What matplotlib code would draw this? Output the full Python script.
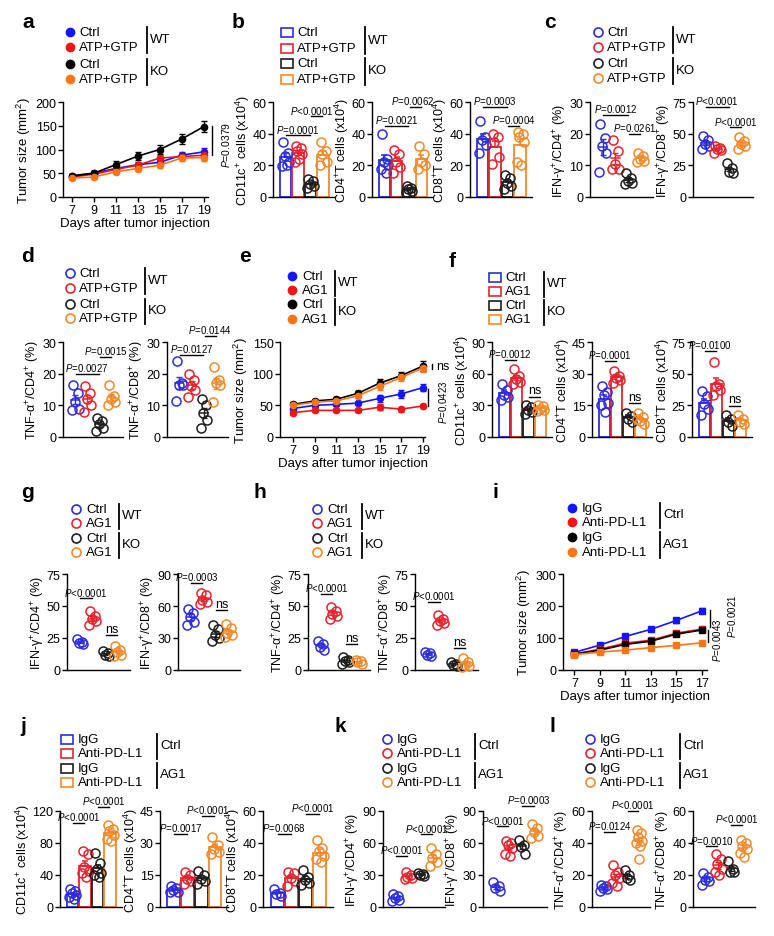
import numpy as np
import matplotlib
matplotlib.use('Agg')
import matplotlib.pyplot as plt
from matplotlib.patches import Rectangle

plt.rcParams['font.family'] = ['Liberation Sans', 'DejaVu Sans']
plt.rcParams['mathtext.fontset'] = 'custom'
plt.rcParams['mathtext.rm'] = 'Liberation Sans'
plt.rcParams['mathtext.it'] = 'Liberation Sans:italic'
plt.rcParams['mathtext.bf'] = 'Liberation Sans:bold'

# ---------------- data ----------------
days = [7, 9, 11, 13, 15, 17, 19]
# a: tumour growth, WT / KO, Ctrl vs ATP+GTP
a_wt_ctrl = [45, 50, 60, 68, 73, 88, 95]
a_wt_ctrl_err = [4, 5, 5, 6, 7, 6, 8]
a_wt_atp = [42, 48, 58, 67, 82, 85, 88]
a_wt_atp_err = [4, 4, 5, 5, 7, 6, 7]
a_ko_ctrl = [44, 50, 68, 86, 100, 122, 148]
a_ko_ctrl_err = [4, 5, 8, 9, 10, 11, 12]
a_ko_atp = [40, 42, 53, 60, 67, 82, 83]
a_ko_atp_err = [3, 4, 5, 6, 6, 7, 8]

# b: cell counts (x10^4)
b_cd11c = [[35, 28, 26, 22, 19.5, 20], [32, 31, 29, 27, 22, 24], [11.5, 10, 8, 7, 6], [35, 29, 27, 22, 20]]
b_cd4 = [[40, 24, 22, 20, 18, 15], [30, 27, 22, 19, 15], [7, 6, 5, 4, 3], [32, 27, 22, 20, 18]]
b_cd8 = [[48, 38, 36, 33, 28], [40, 38, 35, 25, 21], [14, 12, 9, 7, 5], [41, 40, 38, 35, 22, 20]]

# c: IFN-gamma+ (%)
c_cd4 = [[23, 18.5, 16, 14, 8], [18, 14.5, 10.5, 9, 9], [7.5, 6, 5, 4.5, 4], [14, 13, 12, 11.5, 11]]
c_cd8 = [[48, 45, 42, 40, 38], [40, 39, 38, 37, 35], [27, 23, 20, 19], [47, 44, 42, 40, 38]]

# d: TNF-alpha+ (%)
d_cd4 = [[16.5, 14, 11, 9, 8.5], [16, 14, 12, 10, 8], [6, 5, 4, 3, 2], [16.5, 13, 12, 11, 10]]
d_cd8 = [[24, 17, 16.5, 16.5, 11.5], [20, 18, 16, 15, 12.5], [12, 10, 7.5, 5.5, 3], [22, 18, 17, 16.5, 11]]

# e: tumour growth, WT / KO, Ctrl vs AG1
e_wt_ctrl = [45, 50, 51.5, 53.5, 61, 68, 78]
e_wt_ctrl_err = [3, 3, 3, 3, 5, 6, 6]
e_wt_ag1 = [38.5, 42, 42, 42, 47, 44, 49]
e_wt_ag1_err = [3, 3, 3, 3, 5, 4, 3]
e_ko_ctrl = [51.5, 57, 59.5, 69, 85, 97, 112]
e_ko_ctrl_err = [3, 3, 3, 4, 6, 6, 8]
e_ko_ag1 = [50, 55, 57, 65, 80, 94, 109]
e_ko_ag1_err = [3, 3, 3, 4, 5, 6, 7]

# f: cell counts (x10^4)
f_cd11c = [[50, 45, 40, 38, 35], [64, 58, 55, 52, 50], [30, 28, 26, 24, 22], [30, 29, 27, 26, 25]]
f_cd4 = [[24, 21.5, 20, 16, 15, 12], [31.5, 29, 28, 27, 25.5], [11.5, 10, 8.5, 7], [11.5, 9.3, 7.8, 6.3, 8.6]]
f_cd8 = [[36, 32, 26, 22, 17], [59, 42, 40, 37, 33], [17, 14, 12, 9], [17, 14, 12, 10]]

# g: IFN-gamma+ (%), h: TNF-alpha+ (%)
g_cd4 = [[24, 22, 21, 20], [46, 42, 40, 38, 35], [15, 13, 12, 11], [19, 16, 14, 12, 11]]
g_cd8 = [[57, 53, 50, 45, 42], [72, 70, 66, 64, 62], [42, 38, 33, 30, 27], [43, 39, 35, 33, 31]]
h_cd4 = [[23, 20, 18, 16], [49, 46, 44, 42, 40], [10, 8, 7, 6, 5], [8, 7, 6, 5]]
h_cd8 = [[14, 13, 12, 11], [43, 40, 38, 37, 35], [6, 5, 4, 3], [9, 6, 4, 3, 2]]

# i: tumour growth, IgG vs anti-PD-L1
i_days = [7, 9, 11, 13, 15, 17]
i_ctrl_igg = [55, 78, 105, 127, 155, 185]
i_ctrl_igg_err = [4, 5, 5, 6, 7, 8]
i_ctrl_pd = [50, 65, 84, 93, 115, 128]
i_ctrl_pd_err = [3, 4, 4, 5, 5, 6]
i_ag1_igg = [50, 62, 80, 90, 112, 125]
i_ag1_igg_err = [3, 4, 4, 5, 5, 6]
i_ag1_pd = [48, 56, 62, 70, 77, 85]
i_ag1_pd_err = [3, 3, 3, 4, 4, 5]

# j: cell counts, k: IFN-gamma+, l: TNF-alpha+
j_cd11c = [[22, 20, 17, 15, 12, 10], [70, 66, 50, 45, 42, 38], [68, 55, 47, 42, 40, 38], [102, 98, 95, 90, 85, 83]]
j_cd4 = [[10, 9, 8, 7, 7], [16.5, 15, 13, 12, 11], [17, 15, 13, 12, 11], [33, 29, 27, 26, 25]]
j_cd8 = [[11, 9, 8, 7], [22, 21, 18, 16, 13], [23, 19, 17, 15, 14], [42, 37, 35, 32, 30, 28]]
k_cd4 = [[12, 10, 8, 7, 6], [33, 30, 28, 27, 26], [32, 31, 30, 29], [55, 50, 46, 42, 38]]
k_cd8 = [[23, 20, 18, 15], [62, 60, 58, 55, 50, 48], [63, 58, 56, 50], [78, 74, 70, 67, 65]]
l_cd4 = [[14, 13, 12, 11, 10], [26, 22, 20, 18, 15, 13], [23, 20, 18, 17], [48, 46, 44, 41, 40, 38, 30]]
l_cd8 = [[21, 19, 17, 16, 14], [33, 30, 27, 24, 22, 20], [29, 24, 22, 22], [42, 40, 38, 36, 34, 31]]

atp_labels = ['Ctrl', 'ATP+GTP', 'Ctrl', 'ATP+GTP']
ag1_labels = ['Ctrl', 'AG1', 'Ctrl', 'AG1']
pd_labels = ['IgG', 'Anti-PD-L1', 'IgG', 'Anti-PD-L1']

LINE_COLS = ['#1414ff', '#f01414', '#000000', '#ff7514']
RING_COLS = ['#2c2ce0', '#e8232d', '#1e1e1e', '#f5892a']
JIT = [-0.2, 0.2, -0.05, 0.28, -0.28, 0.1, 0.0]

W, H = 774, 937
fig = plt.figure(figsize=(W / 100, H / 100), dpi=100)
ov = fig.add_axes([0, 0, 1, 1])
ov.set_xlim(0, W)
ov.set_ylim(H, 0)
ov.axis('off')


def new_ax(x0, x1, ytop, ybot):
    ax = fig.add_axes([x0 / W, 1 - ybot / H, (x1 - x0) / W, (ybot - ytop) / H])
    ax.patch.set_visible(False)
    for s in ['top', 'right']:
        ax.spines[s].set_visible(False)
    for s in ['left', 'bottom']:
        ax.spines[s].set_linewidth(1.0)
    ax.tick_params(labelsize=9, length=3.5, width=1.0, pad=1.2)
    return ax


def legend(xm, xt, ys, labels, kind, xb, groups):
    for y, lab, lc, rc in zip(ys, labels, LINE_COLS, RING_COLS):
        if kind == 'dot':
            ov.plot(xm, y, 'o', ms=6, color=lc)
        elif kind == 'ring':
            ov.plot(xm, y, 'o', ms=6.5, mfc='none', mec=rc, mew=1.2)
        else:
            ov.add_patch(Rectangle((xm - 6, y - 4.5), 12, 9, fill=False, ec=rc, lw=1.2))
        ov.text(xt, y, lab, fontsize=9.5, va='center', ha='left')
    for k, g in enumerate(groups):
        y0, y1 = ys[2 * k] - 5, ys[2 * k + 1] + 6
        ov.plot([xb, xb], [y0, y1], color='k', lw=1.3)
        ov.text(xb + 3, (y0 + y1) / 2 - 1, g, fontsize=9.5, va='center', ha='left')


def group_ax(box, ylab, ymax, step, groups, sigs, bars):
    ax = new_ax(*box)
    for i, (vals, c) in enumerate(zip(groups, RING_COLS)):
        v = np.asarray(vals, float)
        m = v.mean()
        se = v.std(ddof=1) / np.sqrt(len(v))
        if bars:
            ax.bar(i, m, width=0.92, fc='none', ec=c, lw=1.3, zorder=2)
            ax.errorbar(i, m, yerr=[[0], [se]], color=c, capsize=2.5,
                        elinewidth=1.1, capthick=1.1, zorder=2)
        else:
            ax.plot([i - 0.32, i + 0.32], [m, m], color=c, lw=1.1)
            ax.errorbar(i, m, yerr=se, color=c, capsize=2, elinewidth=1.0, capthick=1.0)
        ax.plot(i + np.array(JIT[:len(v)]), v, 'o', ms=6.5, mfc='none', mec=c,
                mew=1.1, clip_on=False, zorder=3)
    for s in sigs:
        i, j, y, t = s[:4]
        dx = s[4] if len(s) > 4 else 0
        ax.plot([i + 0.05, j - 0.05], [y, y], color='k', lw=1.0, clip_on=False)
        fs = 9 if t == 'ns' else 7
        ax.annotate(t, xy=((i + j) / 2, y), xytext=(dx, 0.5), textcoords='offset points',
                    ha='center', va='bottom', fontsize=fs, annotation_clip=False)
    ax.set_xlim(-1.0, 3.95)
    ax.set_xticks([])
    ax.set_ylim(0, ymax)
    ax.set_yticks(np.arange(0, ymax + 0.1, step))
    ax.set_ylabel(ylab, fontsize=9, labelpad=0)
    return ax


def line_ax(box, ymax, step, xdays, series, xlim, marker):
    ax = new_ax(*box)
    for (m, e), c in zip(series, LINE_COLS):
        ax.errorbar(xdays, m, yerr=e, color=c, marker=marker, ms=4.5, lw=1.2,
                    elinewidth=1, capsize=2, clip_on=False)
    ax.set_xlim(*xlim)
    ax.set_xticks(xdays)
    ax.set_ylim(0, ymax)
    ax.set_yticks(np.arange(0, ymax + 1, step))
    ax.set_ylabel('Tumor size (mm$^{2}$)', fontsize=9.5, labelpad=2)
    ax.set_xlabel('Days after tumor injection', fontsize=9.5, labelpad=1)
    return ax


CD11C = 'CD11c$^{+}$ cells (x10$^{4}$)'
CD4T = 'CD4$^{+}$T cells (x10$^{4}$)'
CD8T = 'CD8$^{+}$T cells (x10$^{4}$)'
IFN4 = 'IFN-γ$^{+}$/CD4$^{+}$ (%)'
IFN8 = 'IFN-γ$^{+}$/CD8$^{+}$ (%)'
TNF4 = 'TNF-α$^{+}$/CD4$^{+}$ (%)'
TNF8 = 'TNF-α$^{+}$/CD8$^{+}$ (%)'

# panel letters
for lab, x, y in [('a', 28, 22), ('b', 238, 22), ('c', 550, 22), ('d', 28, 257),
                  ('e', 245, 257), ('f', 452, 262), ('g', 27, 493), ('h', 260, 493),
                  ('i', 495, 493), ('j', 23, 727), ('k', 340, 727), ('l', 552, 727)]:
    ov.text(x, y, lab, fontsize=15, fontweight='bold', ha='center', va='center')

# ---------------- row 1 ----------------
legend(70, 79, [33, 48, 65, 80], atp_labels, 'dot', 147, ['WT', 'KO'])
ax = line_ax((63, 208, 103, 198), 200, 50, days,
             [(a_wt_ctrl, a_wt_ctrl_err), (a_wt_atp, a_wt_atp_err),
              (a_ko_ctrl, a_ko_ctrl_err), (a_ko_atp, a_ko_atp_err)], (6.2, 19.4), 'o')
ax.plot([19.75, 19.75], [150, 88], color='k', lw=1.0, clip_on=False)
ax.text(21.0, 112, '$P$=0.0379', rotation=90, fontsize=7.5, ha='center', va='center')

legend(287, 297, [33, 49, 64, 80], atp_labels, 'box', 365, ['WT', 'KO'])
group_ax((273, 335, 103, 198), CD11C, 60, 20, b_cd11c,
         [(0, 2, 39, '$P$=0.0001'), (2, 3, 51, '$P$<0.0001', -4)], True)
group_ax((372, 433, 103, 198), CD4T, 60, 20, b_cd4,
         [(0, 2, 45, '$P$=0.0021'), (2, 3, 57, '$P$=0.0062', -2)], True)
group_ax((470, 532, 103, 198), CD8T, 60, 20, b_cd8,
         [(0, 2, 57, '$P$=0.0003'), (2, 3, 45, '$P$=0.0004')], True)

legend(598, 607, [33, 48, 64, 79], atp_labels, 'ring', 673, ['WT', 'KO'])
group_ax((590, 653, 103, 198), IFN4, 30, 10, c_cd4,
         [(0, 2, 26, '$P$=0.0012'), (2, 3, 20, '$P$=0.0261')], False)
group_ax((693, 753, 103, 198), IFN8, 75, 25, c_cd8,
         [(0, 2, 71, '$P$<0.0001'), (2, 3, 55, '$P$<0.0001')], False)

# ---------------- row 2 ----------------
legend(70, 79, [274, 289, 305, 319], atp_labels, 'ring', 145, ['WT', 'KO'])
group_ax((63, 123, 343, 438), TNF4, 30, 10, d_cd4,
         [(0, 2, 20, '$P$=0.0027'), (2, 3, 25.4, '$P$=0.0015')], False)
group_ax((167, 228, 343, 438), TNF8, 30, 10, d_cd8,
         [(0, 2, 26, '$P$=0.0127'), (2, 3, 32, '$P$=0.0144')], False)

legend(292, 302, [277, 291, 305, 320], ag1_labels, 'dot', 335, ['WT', 'KO'])
ax = line_ax((280, 425, 343, 438), 150, 50, days,
             [(e_wt_ctrl, e_wt_ctrl_err), (e_wt_ag1, e_wt_ag1_err),
              (e_ko_ctrl, e_ko_ctrl_err), (e_ko_ag1, e_ko_ag1_err)], (5.8, 19.2), 'o')
ax.plot([19.85, 19.85], [116, 108], color='k', lw=1.0, clip_on=False)
ax.text(20.2, 112, 'ns', fontsize=9, ha='left', va='center')
ax.plot([19.5, 19.5], [76, 49], color='k', lw=1.0, clip_on=False)
ax.text(20.85, 57, '$P$=0.0423', rotation=90, fontsize=7, ha='center', va='center')

legend(495, 505, [278, 292, 306, 320], ag1_labels, 'box', 544, ['WT', 'KO'])
group_ax((492, 552, 343, 438), CD11C, 90, 30, f_cd11c,
         [(0, 1, 73, '$P$=0.0012'), (2, 3, 38, 'ns')], True)
group_ax((592, 652, 343, 438), CD4T, 45, 15, f_cd4,
         [(0, 1, 36, '$P$=0.0001'), (2, 3, 16, 'ns')], True)
group_ax((692, 752, 343, 438), CD8T, 75, 25, f_cd8,
         [(0, 1, 68, '$P$=0.0100'), (2, 3, 24.5, 'ns')], True)

# ---------------- row 3 ----------------
legend(76, 86, [510, 524, 539, 553], ag1_labels, 'ring', 119, ['WT', 'KO'])
group_ax((67, 130, 575, 671), IFN4, 75, 25, g_cd4,
         [(0, 1, 56, '$P$<0.0001'), (2, 3, 27, 'ns')], False)
group_ax((178, 240, 575, 671), IFN8, 90, 30, g_cd8,
         [(0, 1, 82, '$P$=0.0003'), (2, 3, 56, 'ns')], False)

legend(317, 327, [510, 524, 539, 553], ag1_labels, 'ring', 362, ['WT', 'KO'])
group_ax((308, 370, 575, 671), TNF4, 75, 25, h_cd4,
         [(0, 1, 59.5, '$P$<0.0001'), (2, 3, 20, 'ns')], False)
group_ax((415, 478, 575, 671), TNF8, 75, 25, h_cd8,
         [(0, 1, 53, '$P$<0.0001'), (2, 3, 17, 'ns')], False)

legend(572, 582, [509, 523, 538, 553], pd_labels, 'dot', 660, ['Ctrl', 'AG1'])
ax = line_ax((563, 707, 575, 671), 300, 100, i_days,
             [(i_ctrl_igg, i_ctrl_igg_err), (i_ctrl_pd, i_ctrl_pd_err),
              (i_ag1_igg, i_ag1_igg_err), (i_ag1_pd, i_ag1_pd_err)], (6.1, 17.4), 's')
ax.plot([17.5, 17.5], [126, 86], color='k', lw=1.0, clip_on=False)
ax.text(18.2, 95, '$P$=0.0043', rotation=90, fontsize=7, ha='center', va='center')
ax.plot([17.65, 17.65], [188, 135], color='k', lw=1.0, clip_on=False)
ax.text(19.4, 170, '$P$=0.0021', rotation=90, fontsize=7, ha='center', va='center')

# ---------------- row 4 ----------------
legend(67, 78, [740, 754, 769, 783], pd_labels, 'box', 157, ['Ctrl', 'AG1'])
group_ax((60, 122, 812, 908), CD11C, 120, 40, j_cd11c,
         [(0, 1, 105, '$P$<0.0001'), (2, 3, 125, '$P$<0.0001')], True)
group_ax((160, 228, 812, 908), CD4T, 45, 15, j_cd4,
         [(0, 1, 34.4, '$P$=0.0017'), (2, 3, 42.6, '$P$<0.0001')], True)
group_ax((263, 333, 812, 908), CD8T, 60, 20, j_cd8,
         [(0, 1, 45.7, '$P$=0.0068'), (2, 3, 58.3, '$P$<0.0001')], True)

legend(387, 397, [740, 754, 769, 783], pd_labels, 'ring', 475, ['Ctrl', 'AG1'])
group_ax((383, 445, 812, 908), IFN4, 90, 30, k_cd4,
         [(0, 1, 48, '$P$<0.0001'), (2, 3, 68, '$P$<0.0001')], False)
group_ax((483, 547, 812, 908), IFN8, 90, 30, k_cd8,
         [(0, 1, 75.5, '$P$<0.0001'), (2, 3, 95, '$P$=0.0003')], False)

legend(590, 600, [740, 754, 769, 783], pd_labels, 'ring', 680, ['Ctrl', 'AG1'])
group_ax((592, 650, 812, 908), TNF4, 60, 20, l_cd4,
         [(0, 1, 47, '$P$=0.0124'), (2, 3, 60, '$P$<0.0001')], False)
group_ax((693, 755, 812, 908), TNF8, 60, 20, l_cd8,
         [(0, 1, 38, '$P$=0.0010'), (2, 3, 51.5, '$P$<0.0001')], False)

fig.savefig('out.png', dpi=100)
